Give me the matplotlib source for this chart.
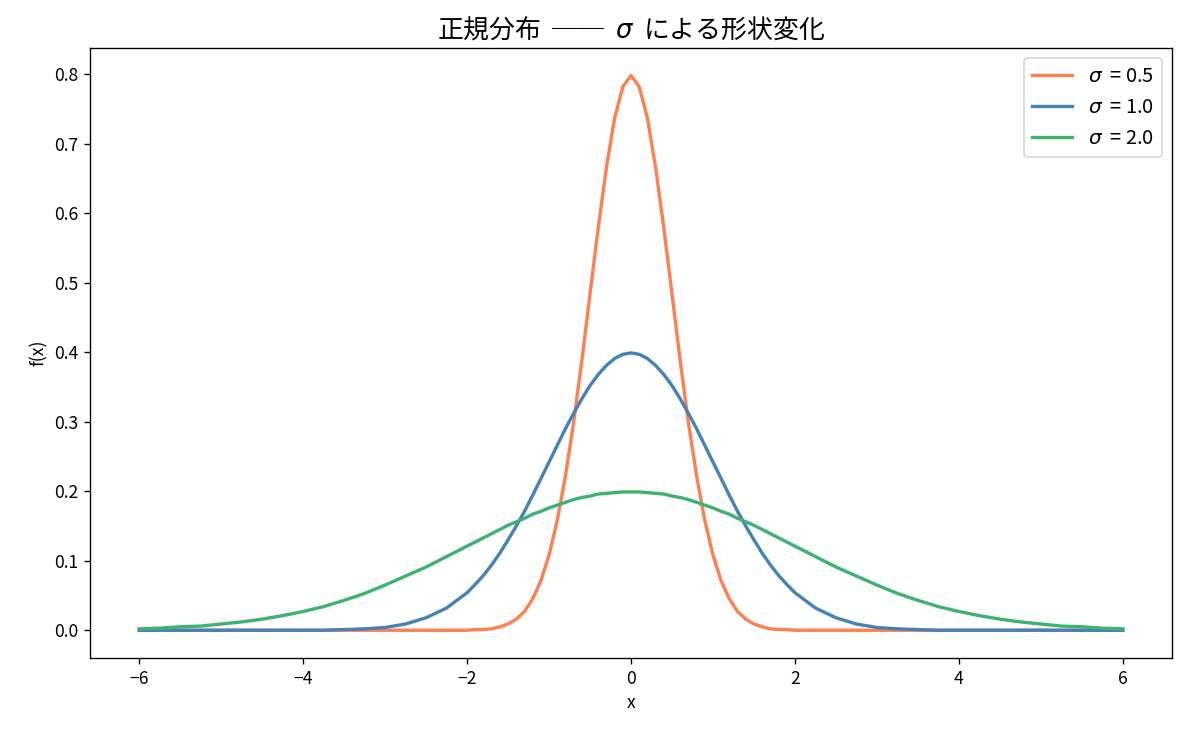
import matplotlib
matplotlib.use("Agg")
import matplotlib.pyplot as plt

plt.rcParams['font.family'] = ['Noto Sans CJK JP', 'DejaVu Sans']
plt.rcParams['axes.unicode_minus'] = True

x = [-6.0, -5.75, -5.5, -5.25, -5.0, -4.75, -4.5, -4.25, -4.0, -3.75,
     -3.5, -3.25, -3.0, -2.75, -2.5, -2.25,
     -2.0, -1.9, -1.8, -1.7, -1.6, -1.5, -1.4, -1.3, -1.2, -1.1,
     -1.0, -0.9, -0.8, -0.7, -0.6, -0.5, -0.4, -0.3, -0.2, -0.1,
     0.0,
     0.1, 0.2, 0.3, 0.4, 0.5, 0.6, 0.7, 0.8, 0.9, 1.0,
     1.1, 1.2, 1.3, 1.4, 1.5, 1.6, 1.7, 1.8, 1.9, 2.0,
     2.25, 2.5, 2.75, 3.0, 3.25, 3.5, 3.75, 4.0, 4.25, 4.5,
     4.75, 5.0, 5.25, 5.5, 5.75, 6.0]

y_sigma05 = [0.000, 0.000, 0.000, 0.000, 0.000, 0.000, 0.000, 0.000, 0.000, 0.000,
             0.000, 0.000, 0.000, 0.000, 0.000, 0.000,
             0.000, 0.001, 0.001, 0.002, 0.005, 0.009, 0.016, 0.027, 0.045, 0.071,
             0.108, 0.158, 0.222, 0.299, 0.388, 0.484, 0.579, 0.666, 0.737, 0.782,
             0.798,
             0.782, 0.737, 0.666, 0.579, 0.484, 0.388, 0.299, 0.222, 0.158, 0.108,
             0.071, 0.045, 0.027, 0.016, 0.009, 0.005, 0.002, 0.001, 0.001, 0.000,
             0.000, 0.000, 0.000, 0.000, 0.000, 0.000, 0.000, 0.000, 0.000, 0.000,
             0.000, 0.000, 0.000, 0.000, 0.000, 0.000]

y_sigma10 = [0.000, 0.000, 0.000, 0.000, 0.000, 0.000, 0.000, 0.000, 0.000, 0.000,
             0.001, 0.002, 0.004, 0.009, 0.018, 0.032,
             0.054, 0.066, 0.079, 0.094, 0.111, 0.130, 0.150, 0.171, 0.194, 0.218,
             0.242, 0.266, 0.290, 0.312, 0.333, 0.352, 0.368, 0.381, 0.391, 0.397,
             0.399,
             0.397, 0.391, 0.381, 0.368, 0.352, 0.333, 0.312, 0.290, 0.266, 0.242,
             0.218, 0.194, 0.171, 0.150, 0.130, 0.111, 0.094, 0.079, 0.066, 0.054,
             0.032, 0.018, 0.009, 0.004, 0.002, 0.001, 0.000, 0.000, 0.000, 0.000,
             0.000, 0.000, 0.000, 0.000, 0.000, 0.000]

y_sigma20 = [0.002, 0.003, 0.005, 0.006, 0.009, 0.012, 0.016, 0.021, 0.027, 0.034,
             0.043, 0.053, 0.065, 0.078, 0.091, 0.106,
             0.121, 0.127, 0.133, 0.139, 0.145, 0.151, 0.156, 0.161, 0.167, 0.171,
             0.176, 0.180, 0.184, 0.188, 0.191, 0.193, 0.196, 0.197, 0.198, 0.199,
             0.199,
             0.199, 0.198, 0.197, 0.196, 0.193, 0.191, 0.188, 0.184, 0.180, 0.176,
             0.171, 0.167, 0.161, 0.156, 0.151, 0.145, 0.139, 0.133, 0.127, 0.121,
             0.106, 0.091, 0.078, 0.065, 0.053, 0.043, 0.034, 0.027, 0.021, 0.016,
             0.012, 0.009, 0.006, 0.005, 0.003, 0.002]

labels = [r'$\sigma$  = 0.5', r'$\sigma$  = 1.0', r'$\sigma$  = 2.0']
colors = ['coral', 'steelblue', 'mediumseagreen']

fig = plt.figure(figsize=(1185 / 120, 736 / 120), dpi=120)
ax = fig.add_axes([0.076, 0.106, 0.913, 0.829])

for ys, lab, col in zip([y_sigma05, y_sigma10, y_sigma20], labels, colors):
    ax.plot(x, ys, color=col, lw=2, label=lab)

ax.set_yticks([0.0, 0.1, 0.2, 0.3, 0.4, 0.5, 0.6, 0.7, 0.8])
ax.tick_params(labelsize=10.5)
ax.set_xlabel('x', fontsize=10.5)
ax.set_ylabel('f(x)', fontsize=10.5)
ax.set_title('正規分布  ──  $\\sigma$  による形状変化', fontsize=15.5)
ax.legend(loc='upper right', fontsize=12)

fig.savefig('out.png', dpi=120)
